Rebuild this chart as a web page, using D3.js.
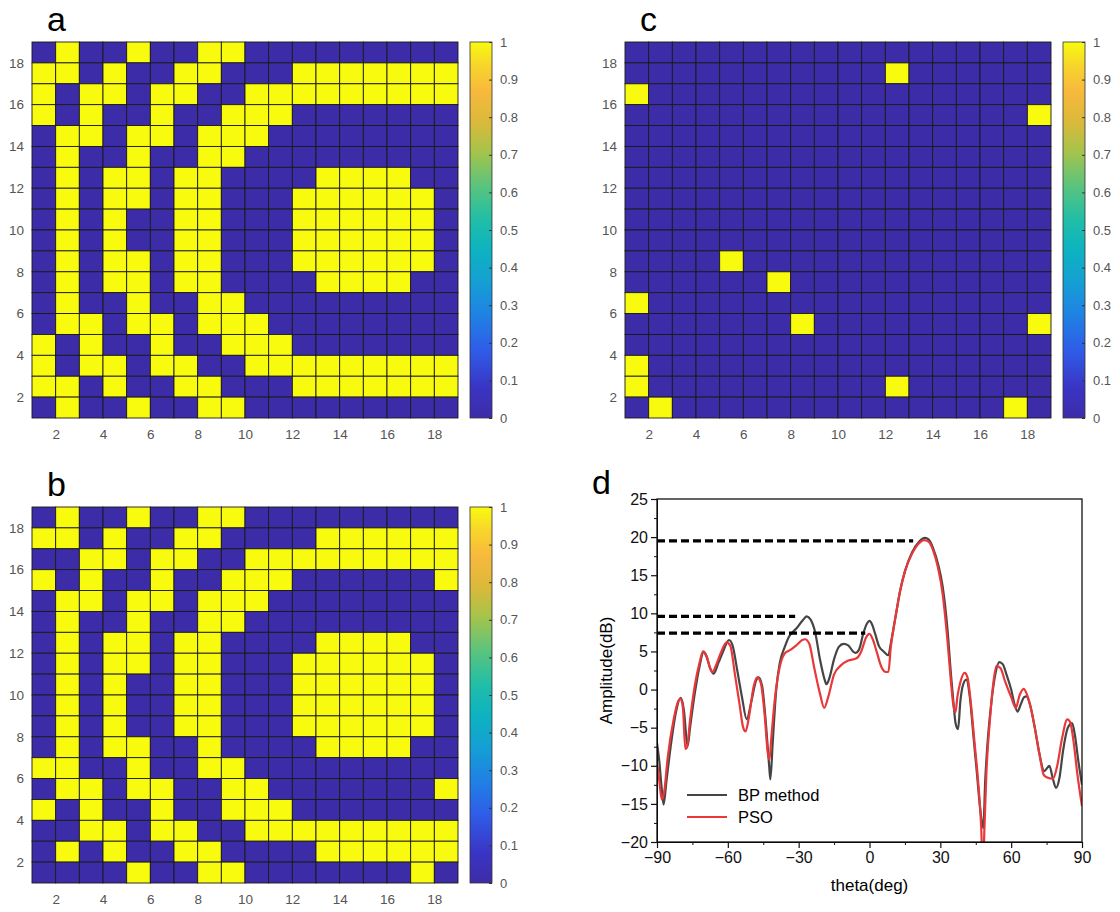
<!DOCTYPE html>
<html>
<head>
<meta charset="utf-8">
<script src="https://cdn.jsdelivr.net/npm/d3@7"></script>
<style>
  body { margin: 0; background: #fff; }
  text { font-family: "Liberation Sans", Arial, sans-serif; }
</style>
</head>
<body>
<div id="chart"></div>
<script>
"use strict"

// binary element maps, top row first (row 18-19 down to row 1-2)
var mapA = [
  "010010011000000000",
  "110100110001111111",
  "101101100111111111",
  "101001001110000000",
  "011011011100000000",
  "010010011000000000",
  "010110110000111100",
  "010110110001111110",
  "010100110001111110",
  "010100110001111110",
  "010110110001111110",
  "010110110000111100",
  "010010011000000000",
  "011011011100000000",
  "101001001110000000",
  "101101100111111111",
  "110100110001111111",
  "010010011000000000"
];
var mapB = [
  "010010011000000000",
  "110100110000111111",
  "001101100111111111",
  "101001001110000001",
  "011011011100000000",
  "010010011000000000",
  "010110110000111100",
  "010110110001111110",
  "010100110001111110",
  "010100110001111110",
  "010100110001111110",
  "010110010000111100",
  "110010011000000000",
  "011011001100000001",
  "101001001110000000",
  "001101100111111111",
  "010100110000111111",
  "000010011000000010"
];
var mapC = [
  "000000000000000000",
  "000000000001000000",
  "100000000000000000",
  "000000000000000001",
  "000000000000000000",
  "000000000000000000",
  "000000000000000000",
  "000000000000000000",
  "000000000000000000",
  "000000000000000000",
  "000010000000000000",
  "000000100000000000",
  "100000000000000000",
  "000000010000000001",
  "000000000000000000",
  "100000000000000000",
  "100000000001000000",
  "010000000000000010"
];
var gridTicks = [2, 4, 6, 8, 10, 12, 14, 16, 18];
var cbTicks = [0, 0.1, 0.2, 0.3, 0.4, 0.5, 0.6, 0.7, 0.8, 0.9, 1];

// radiation pattern, [theta, dB]
var bpCurve = [
  [-90,-7],[-89,-9.5],[-88,-13],[-87.2,-15.1],[-86,-12],[-84,-7],[-82,-3],[-80,-1.1],
  [-78.5,-3],[-77.5,-6.5],[-77,-7.4],[-76,-5],[-74,-0.5],[-72,3],[-70.3,4.9],[-69,4.3],
  [-67.5,2.8],[-66,2.1],[-64,3.5],[-62,5],[-59.5,6.5],[-58,5.8],[-56,2.5],[-54,-1],
  [-52,-3.9],[-50,-1.5],[-48,1.2],[-47,1.6],[-45.5,0.5],[-44,-4],[-42.5,-10],[-42,-11.8],
  [-41,-7],[-39.5,0],[-38,3.5],[-36,5.5],[-34,7],[-31,8],[-28,9.2],[-26.6,9.6],[-25,9.2],
  [-23,7.5],[-21,4],[-19,1.3],[-18.2,0.7],[-17,1.5],[-15,4],[-13,5.6],[-11,6],[-9,5.8],
  [-7,5],[-6,4.8],[-4.5,5.2],[-2.5,7.5],[-1,8.7],[0,9],[1,8.6],[2.5,7.2],[4,5.7],[6,5],
  [8,4.5],[9,6],[11,9.5],[13,13],[15,15.5],[18,18],[21,19.4],[23.5,19.9],[25,19.7],
  [27,18.5],[29,16.5],[31,13.5],[33,8],[34.5,2],[35.5,-1.5],[36.5,-4.5],[37.5,-5.2],
  [38.5,-1.5],[39.5,0.5],[41,1.3],[42.5,-1],[44,-6],[45.5,-11],[47,-16],[48.2,-18.2],
  [49,-12],[50,-7],[51.5,-2],[53,1.5],[55,3.6],[56.5,3.3],[58,2],[60,0],[61.5,-2],
  [62.7,-2.9],[64,-2],[65.5,-1],[66.5,-0.9],[68,-2],[70,-5],[72,-8.5],[74,-10.7],
  [75.5,-10.2],[76.2,-10],[77.5,-11.5],[79,-12.9],[80.5,-11.5],[82,-8],[84,-5],
  [85.8,-4.4],[87,-6],[88.5,-9.5],[90,-12.5]
];
var psoCurve = [
  [-90,-9.5],[-89,-12],[-88,-14.4],[-87,-13.5],[-85.5,-9],[-83,-4],[-81,-1.5],[-80,-1.2],
  [-79,-2.5],[-78,-7.8],[-77.3,-7.6],[-76,-4],[-74,0.5],[-72,3.5],[-70.5,5],[-69,4.4],
  [-67.5,2.8],[-66.5,2.3],[-65,3.2],[-63,4.8],[-60.5,6.2],[-59,5.8],[-57,2],[-55,-2],
  [-53.5,-5],[-52.5,-5.5],[-51,-3.5],[-49,0.5],[-47.5,1.6],[-46,0.8],[-44.5,-3],[-43,-8.5],
  [-42.4,-9.2],[-41.5,-6],[-40,-1],[-38,3],[-36,4.7],[-33.5,5.2],[-31,5.8],[-28.5,6.5],
  [-27.3,6.6],[-25.5,6],[-23.5,3],[-21,-0.5],[-19.2,-2.4],[-17.5,-1],[-15,2],[-12,3.2],
  [-9,3.8],[-5.5,4.1],[-3.5,5],[-1.5,6.8],[0,7.3],[1.5,6.5],[3,5],[5,3],[7,2.3],[8,2.3],
  [9,5.5],[11,9.5],[13,13],[15,15.5],[18,17.8],[21,19.2],[23,19.6],[25,19.4],[27,18.2],
  [29,16],[31,12.5],[33,6.5],[34.5,1],[35.5,-2],[36.4,-3],[37.2,-1],[38.5,1],[40.3,2.2],
  [41.5,1.6],[43,-2],[44.5,-7],[46,-12],[47.3,-18],[48,-24],[48.7,-18],[49.5,-11],[51,-4],
  [52.5,1],[53.8,3.1],[55.5,2.8],[57.5,1],[60,-1],[62,-2.4],[63.5,-0.8],[65.3,0.1],
  [66.5,-0.5],[68,-2],[70,-5],[72,-8.5],[73.8,-11.2],[75,-11.5],[77.7,-11.7],[79.5,-10],
  [81.5,-6.5],[83.8,-3.9],[85,-4.3],[86.5,-7],[88,-11],[90,-15.3]
];
// dashed sidelobe / main lobe levels
var levelLines = [
  {level: 19.5, end: 18.5},
  {level: 9.6, end: -31.5},
  {level: 7.4, end: -1.8}
];
var thetaTicks = [-90, -60, -30, 0, 30, 60, 90];
var ampTicks = [-20, -15, -10, -5, 0, 5, 10, 15, 20, 25];

var blue = "#3d2ca8";
var yellow = "#f9fb0e";
var parula = [
  [0.00, "#3d2ca8"], [0.08, "#3a34c4"], [0.18, "#2f5ce8"], [0.27, "#2080e4"],
  [0.36, "#159fd4"], [0.45, "#0db3c0"], [0.53, "#22bea6"], [0.62, "#5cc47c"],
  [0.71, "#a7c34a"], [0.79, "#dcb93a"], [0.87, "#f8b93c"], [0.94, "#f7d62a"],
  [1.00, "#f9fb0e"]
];

var svg = d3.select("#chart").append("svg")
    .attr("width", 1120).attr("height", 912);
svg.append("rect").attr("width", 1120).attr("height", 912).attr("fill", "#fff");

var grad = svg.append("defs").append("linearGradient")
    .attr("id", "parula").attr("x1", 0).attr("y1", 1).attr("x2", 0).attr("y2", 0);
grad.selectAll("stop").data(parula).enter().append("stop")
    .attr("offset", function(d) { return d[0]; })
    .attr("stop-color", function(d) { return d[1]; });

function drawMap(rows, left, top, label) {
  var w = 426, h = 376;
  var x = d3.scaleLinear().domain([1, 19]).range([left, left + w]);
  var y = d3.scaleLinear().domain([1, 19]).range([top + h, top]);
  var g = svg.append("g");

  var cells = [];
  rows.forEach(function(row, r) {
    row.split("").forEach(function(v, c) {
      cells.push({col: c + 1, row: 18 - r, v: +v});
    });
  });
  g.selectAll("rect.cell").data(cells).enter().append("rect")
      .attr("class", "cell")
      .attr("x", function(d) { return x(d.col); })
      .attr("y", function(d) { return y(d.row + 1); })
      .attr("width", x(2) - x(1))
      .attr("height", y(1) - y(2))
      .attr("fill", function(d) { return d.v ? yellow : blue; })
      .attr("stroke", "#1a1a1a").attr("stroke-width", 0.9);

  var ax = g.append("g").attr("transform", "translate(0," + (top + h) + ")")
      .call(d3.axisBottom(x).tickValues(gridTicks).tickSize(0).tickPadding(11));
  var ay = g.append("g").attr("transform", "translate(" + left + ",0)")
      .call(d3.axisLeft(y).tickValues(gridTicks).tickSize(0).tickPadding(8));
  [ax, ay].forEach(function(a) {
    a.select(".domain").remove();
    a.selectAll("text").attr("fill", "#555").style("font-size", "13.5px");
  });

  // colorbar
  var cbx = left + w + 12, cbw = 22;
  var cy = d3.scaleLinear().domain([0, 1]).range([top + h, top]);
  g.append("rect").attr("x", cbx).attr("y", top).attr("width", cbw).attr("height", h)
      .attr("fill", "url(#parula)").attr("stroke", "#333").attr("stroke-width", 0.8);
  var cb = g.append("g").attr("transform", "translate(" + (cbx + cbw) + ",0)")
      .call(d3.axisRight(cy).tickValues(cbTicks).tickSize(-3).tickPadding(8)
        .tickFormat(function(d) { return d3.format("~g")(d); }));
  cb.select(".domain").remove();
  cb.selectAll("line").attr("stroke", "#333");
  cb.selectAll("text").attr("fill", "#555").style("font-size", "13px");

  svg.append("text").attr("x", left + 15).attr("y", top - 11)
      .style("font-size", "34px").text(label);
}

drawMap(mapA, 32, 42, "a");
drawMap(mapB, 32, 507, "b");
drawMap(mapC, 625, 42, "c");

// panel d
var pl = 657, pr = 1082, pt = 499, pb = 842;
var tx = d3.scaleLinear().domain([-90, 90]).range([pl, pr]);
var ty = d3.scaleLinear().domain([-20, 25]).range([pb, pt]);
var gd = svg.append("g");

gd.append("clipPath").attr("id", "plotclip").append("rect")
    .attr("x", pl).attr("y", pt).attr("width", pr - pl).attr("height", pb - pt);

var line = d3.line()
    .x(function(d) { return tx(d[0]); })
    .y(function(d) { return ty(d[1]); })
    .curve(d3.curveMonotoneX);

gd.append("path").datum(bpCurve).attr("d", line).attr("clip-path", "url(#plotclip)")
    .attr("fill", "none").attr("stroke", "#454545").attr("stroke-width", 2.2);
gd.append("path").datum(psoCurve).attr("d", line).attr("clip-path", "url(#plotclip)")
    .attr("fill", "none").attr("stroke", "#e8383a").attr("stroke-width", 2.2);

gd.selectAll("line.level").data(levelLines).enter().append("line")
    .attr("class", "level")
    .attr("x1", tx(-90)).attr("x2", function(d) { return tx(d.end); })
    .attr("y1", function(d) { return ty(d.level); })
    .attr("y2", function(d) { return ty(d.level); })
    .attr("stroke", "#000").attr("stroke-width", 3.2).attr("stroke-dasharray", "8,4");

// minor ticks first, majors on top
var minorX = d3.range(-75, 90, 30), minorY = d3.range(-17.5, 25, 5);
gd.append("g").attr("transform", "translate(0," + pb + ")")
    .call(d3.axisBottom(tx).tickValues(minorX).tickSize(3).tickFormat(""))
    .select(".domain").remove();
gd.append("g").attr("transform", "translate(" + pl + ",0)")
    .call(d3.axisLeft(ty).tickValues(minorY).tickSize(3).tickFormat(""))
    .select(".domain").remove();
var axb = gd.append("g").attr("transform", "translate(0," + pb + ")")
    .call(d3.axisBottom(tx).tickValues(thetaTicks).tickSize(6).tickPadding(4));
var axl = gd.append("g").attr("transform", "translate(" + pl + ",0)")
    .call(d3.axisLeft(ty).tickValues(ampTicks).tickSize(6).tickPadding(3));
[axb, axl].forEach(function(a) {
  a.selectAll("text").attr("fill", "#111").style("font-size", "16px");
  a.selectAll("line").attr("stroke-width", 1.2);
});
gd.selectAll(".tick line").attr("stroke", "#111");
gd.append("rect").attr("x", pl).attr("y", pt).attr("width", pr - pl).attr("height", pb - pt)
    .attr("fill", "none").attr("stroke", "#111").attr("stroke-width", 1.3);

gd.append("text").attr("x", (pl + pr) / 2).attr("y", 891)
    .attr("text-anchor", "middle").style("font-size", "17px").text("theta(deg)");
gd.append("text").attr("transform", "translate(612," + ((pt + pb) / 2) + ") rotate(-90)")
    .attr("text-anchor", "middle").style("font-size", "17px").text("Amplitude(dB)");

var legend = [{name: "BP method", color: "#454545"}, {name: "PSO", color: "#e8383a"}];
var lg = gd.selectAll("g.leg").data(legend).enter().append("g")
    .attr("transform", function(d, i) { return "translate(687," + (795 + i * 22) + ")"; });
lg.append("line").attr("x1", 0).attr("x2", 40)
    .attr("stroke", function(d) { return d.color; }).attr("stroke-width", 2.2);
lg.append("text").attr("x", 51).attr("dy", "0.35em").style("font-size", "16.5px")
    .text(function(d) { return d.name; });

svg.append("text").attr("x", 592).attr("y", 494).style("font-size", "34px").text("d");
</script>
</body>
</html>
